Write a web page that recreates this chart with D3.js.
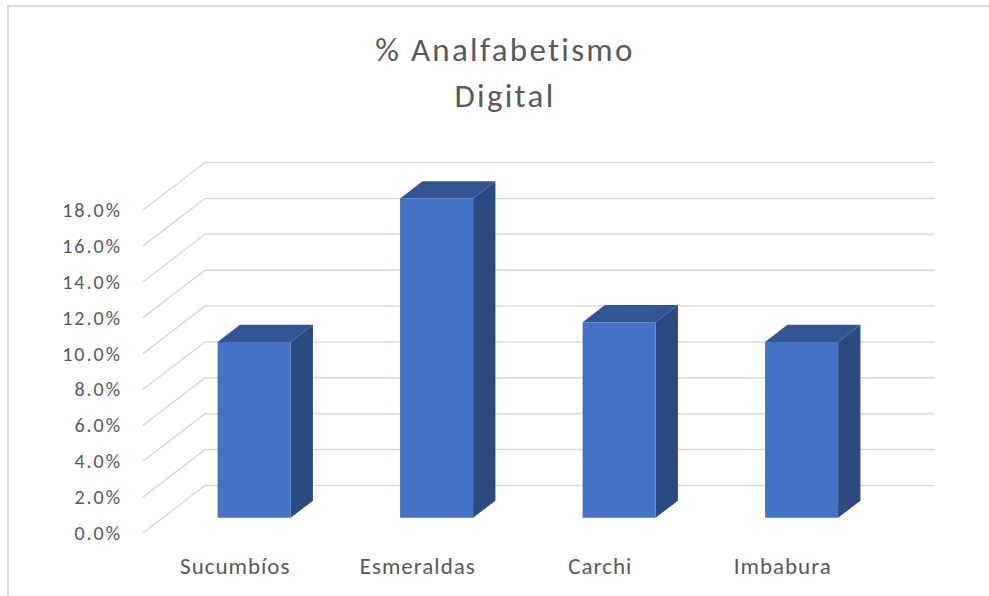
<!DOCTYPE html>
<html>
<head>
<meta charset="utf-8">
<script src="https://cdn.jsdelivr.net/npm/d3@7"></script>
<style>
  body { margin: 0; background: #fff; }
  text { font-family: Calibri, Carlito, Lato, sans-serif; }
</style>
</head>
<body>
<div id="vis"></div>
<script>
//data----
const provincias = ["Sucumbíos", "Esmeraldas", "Carchi", "Imbabura"]
const analfabetismo = [0.098, 0.178, 0.109, 0.098]
const yTicks = [0, 0.02, 0.04, 0.06, 0.08, 0.10, 0.12, 0.14, 0.16, 0.18]
const titleLines = ["% Analfabetismo", "Digital"]

function createApp(){

    //dimensions---
    let dimensions = {
        width: 989,
        height: 596,
        plot: { left: 143, right: 873, bottom: 533, top: 210 },
        depth: { dx: 62, dy: 47.5 },   // oblique offset of the back wall
        barDepth: [0.32, 0.68],
    }

    const wrapper = d3.select("#vis")
        .append("svg")
        .attr("width", dimensions.width)
        .attr("height", dimensions.height)

    // chart frame (only top/left edge visible in the crop)
    wrapper.append("rect")
        .attr("x", 8)
        .attr("y", 6)
        .attr("width", 1000)
        .attr("height", 700)
        .attr("fill", "none")
        .attr("stroke", "#d9d9d9")
        .attr("stroke-width", 2)

    //scales------
    const xScale = d3.scaleBand()
        .domain(provincias)
        .range([dimensions.plot.left, dimensions.plot.right])
        .paddingInner(0.6)
        .paddingOuter(0.3)

    const yScale = d3.scaleLinear()
        .domain([0, 0.18])
        .range([dimensions.plot.bottom, dimensions.plot.top])

    const fmt = d3.format(".1%")

    // project a front-plane point to depth z (0 = front, 1 = back wall)
    const proj = (x, y, z) => [x + z * dimensions.depth.dx, y - z * dimensions.depth.dy]

    //gridlines: side wall + back wall
    const grid = wrapper.append("g").attr("class", "grid")
    yTicks.forEach(t => {
        const y = yScale(t)
        const p0 = proj(dimensions.plot.left, y, 0)
        const p1 = proj(dimensions.plot.left, y, 1)
        const p2 = proj(dimensions.plot.right, y, 1)
        grid.append("path")
            .attr("d", d3.line()([p0, p1, p2]))
            .attr("fill", "none")
            .attr("stroke", "#d9d9d9")
            .attr("stroke-width", 1.5)
    })

    //y labels
    wrapper.append("g")
        .selectAll("text")
        .data(yTicks)
        .enter().append("text")
            .attr("x", 122)
            .attr("y", d => yScale(d))
            .attr("dy", "0.35em")
            .attr("text-anchor", "end")
            .attr("fill", "#595959")
            .style("font-size", "20px")
            .style("letter-spacing", "2px")
            .text(fmt)

    //bars------
    const [z0, z1] = dimensions.barDepth
    const bars = wrapper.append("g")
        .selectAll("g")
        .data(provincias.map((p, i) => ({ name: p, value: analfabetismo[i] })))
        .enter().append("g")

    const face = (d) => {
        const xl = xScale(d.name), xr = xl + xScale.bandwidth()
        const yb = yScale(0), yt = yScale(d.value)
        return { xl, xr, yb, yt }
    }

    // side
    bars.append("path")
        .attr("fill", "#2a4a80")
        .attr("d", d => {
            const f = face(d)
            return d3.line()([proj(f.xr, f.yb, z0), proj(f.xr, f.yb, z1), proj(f.xr, f.yt, z1), proj(f.xr, f.yt, z0)]) + "Z"
        })
    // top
    bars.append("path")
        .attr("fill", "#325594")
        .attr("d", d => {
            const f = face(d)
            return d3.line()([proj(f.xl, f.yt, z0), proj(f.xl, f.yt, z1), proj(f.xr, f.yt, z1), proj(f.xr, f.yt, z0)]) + "Z"
        })
    // front
    bars.append("path")
        .attr("fill", "#4472c4")
        .attr("d", d => {
            const f = face(d)
            return d3.line()([proj(f.xl, f.yb, z0), proj(f.xr, f.yb, z0), proj(f.xr, f.yt, z0), proj(f.xl, f.yt, z0)]) + "Z"
        })

    //x labels
    wrapper.append("g")
        .selectAll("text")
        .data(provincias)
        .enter().append("text")
            .attr("x", d => xScale(d) + xScale.bandwidth() / 2 + 1)
            .attr("y", 574)
            .attr("text-anchor", "middle")
            .attr("fill", "#595959")
            .style("font-size", "23px")
            .style("letter-spacing", "1px")
            .text(d => d)

    //title
    wrapper.append("g")
        .selectAll("text")
        .data(titleLines)
        .enter().append("text")
            .attr("x", 505)
            .attr("y", (d, i) => 61 + i * 45.5)
            .attr("text-anchor", "middle")
            .attr("fill", "#595959")
            .style("font-size", "33px")
            .style("letter-spacing", "2.3px")
            .text(d => d)
}

createApp()
</script>
</body>
</html>
